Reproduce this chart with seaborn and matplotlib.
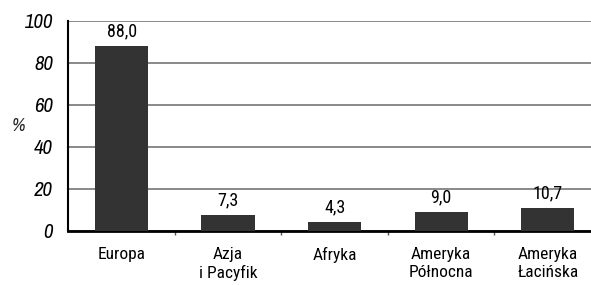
import pandas as pd
import seaborn as sns
import matplotlib.pyplot as plt
from matplotlib.ticker import FixedLocator

regions = ["Europa", "Azja\ni Pacyfik", "Afryka", "Ameryka\nPółnocna", "Ameryka\nŁacińska"]
shares = [88.0, 7.3, 4.3, 9.0, 10.7]
y_ticks = [0, 20, 40, 60, 80, 100]

df = pd.DataFrame({"region": regions, "share": shares})

sns.set_style("white")
plt.rcParams["font.family"] = ["Roboto Condensed", "DejaVu Sans"]
plt.rcParams["text.color"] = "black"
plt.rcParams["xtick.color"] = "black"
plt.rcParams["ytick.color"] = "black"
italic_font = ["Archivo Narrow", "DejaVu Sans"]

fig = plt.figure(figsize=(5.91, 2.85), dpi=100)
ax = fig.add_axes([68.3 / 591, 1 - 230.7 / 285, (601 - 68.3) / 591, (230.7 - 20.7) / 285])

sns.barplot(data=df, x="region", y="share", color="#333333", width=0.5,
            saturation=1, linewidth=0, ax=ax, zorder=3)

# wartości nad słupkami
ax.bar_label(ax.containers[0], labels=[f"{v:.1f}".replace(".", ",") for v in shares],
             padding=4, fontsize=13)

ax.set_ylim(0, 100)
ax.set_xlim(-0.5, len(regions) - 0.5)
ax.set_yticks(y_ticks)
ax.set_yticklabels([str(t) for t in y_ticks], fontsize=15, style="italic", family=italic_font)
ax.yaxis.grid(True, color="#808080", linewidth=1.3, zorder=0)
ax.set_axisbelow(True)

ax.set_xlabel("")
ax.set_ylabel("%", fontsize=13.5, style="italic", family=italic_font,
              rotation=0, va="center", ha="center")
ax.yaxis.set_label_coords(-0.094, 0.5)

ax.tick_params(axis="x", which="major", length=0, pad=12, labelsize=12.5)
ax.tick_params(axis="y", which="major", length=3, width=1.5, color="black", pad=8)
ax.xaxis.set_minor_locator(FixedLocator([i + 0.5 for i in range(len(regions) - 1)]))
ax.tick_params(axis="x", which="minor", length=3, width=1, color="#555555", bottom=True)

for side in ["top", "right"]:
    ax.spines[side].set_visible(False)
ax.spines["left"].set_color("black")
ax.spines["left"].set_linewidth(1.5)
ax.spines["bottom"].set_color("black")
ax.spines["bottom"].set_linewidth(2)

fig.savefig("out.png", dpi=100)
